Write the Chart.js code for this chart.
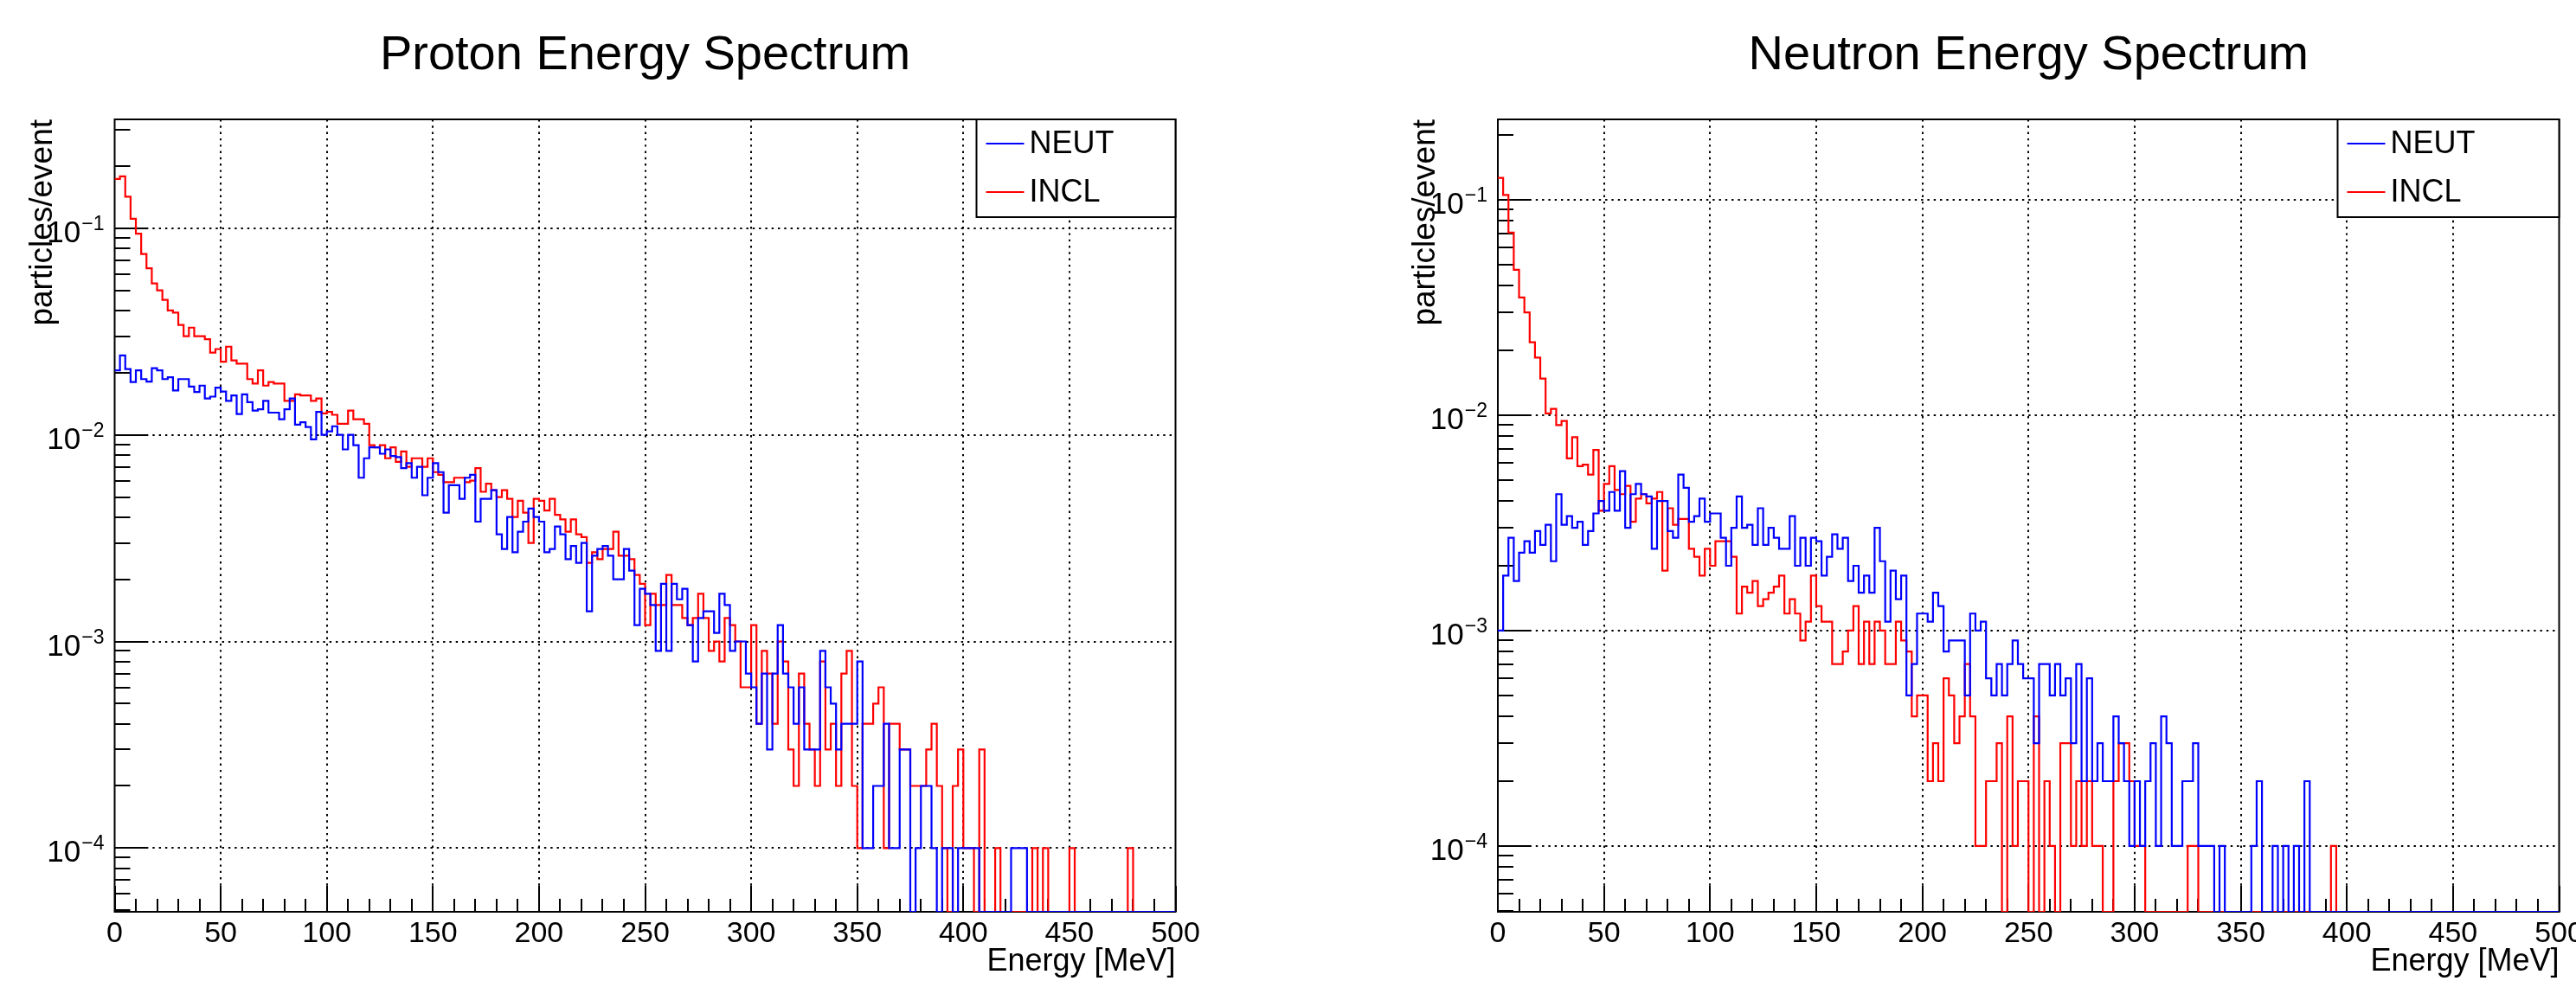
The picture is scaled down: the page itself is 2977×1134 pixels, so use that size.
<!DOCTYPE html>
<html>
<head>
<meta charset="utf-8">
<script src="https://cdn.jsdelivr.net/npm/chart.js@4.4.1/dist/chart.umd.min.js"></script>
<style>
  body { margin: 0; background: #fff; width: 2977px; height: 1134px; overflow: hidden; position: relative; }
  canvas { position: absolute; top: 0; }
</style>
</head>
<body>
<canvas id="protonChart" width="1488" height="1134" style="left:0px"></canvas>
<canvas id="neutronChart" width="1489" height="1134" style="left:1488px"></canvas>
<script>
// histogram binning: 200 bins of 2.5 MeV from 0 to 500 MeV
const BIN_WIDTH = 2.5;
const xTickLabels = [0, 50, 100, 150, 200, 250, 300, 350, 400, 450, 500];
const yDecades = [-1, -2, -3, -4];
const seriesNames = ["NEUT", "INCL"];

// Proton energy spectrum (particles/event)
const protonNeut = [
  0.0205, 0.0242, 0.0208, 0.0180, 0.0205, 0.0186, 0.0181, 0.0210, 0.0205, 0.0186,
  0.0190, 0.0164, 0.0186, 0.0186, 0.0171, 0.0161, 0.0173, 0.0150, 0.0153, 0.0169,
  0.0162, 0.0146, 0.0155, 0.0126, 0.0157, 0.0144, 0.0131, 0.0133, 0.0146, 0.0128,
  0.0128, 0.0119, 0.0133, 0.0150, 0.0112, 0.0115, 0.0109, 0.0095, 0.0129, 0.0100,
  0.0104, 0.0110, 0.0100, 0.0085, 0.0100, 0.0089, 0.0062, 0.0077, 0.0087, 0.0087,
  0.0081, 0.0085, 0.0079, 0.0078, 0.0069, 0.0073, 0.0062, 0.0070, 0.0051, 0.0062,
  0.0073, 0.0066, 0.0042, 0.0057, 0.0057, 0.0049, 0.0062, 0.0064, 0.0038, 0.0049,
  0.0049, 0.0054, 0.0033, 0.0028, 0.0040, 0.0027, 0.0034, 0.0038, 0.0044, 0.0040,
  0.0038, 0.0027, 0.0028, 0.0036, 0.0033, 0.0025, 0.0029, 0.0024, 0.0030, 0.0014,
  0.0026, 0.0028, 0.0029, 0.0026, 0.0020, 0.0020, 0.0028, 0.0022, 0.0012, 0.0018,
  0.0017, 0.0015, 0.0009, 0.0019, 0.0009, 0.0019, 0.0016, 0.0018, 0.0012, 0.0008,
  0.0013, 0.0014, 0.0014, 0.0011, 0.0017, 0.0015, 0.0009, 0.0010, 0.0010, 0.0007,
  0.0006, 0.0004, 0.0007, 0.0003, 0.0007, 0.0012, 0.0007, 0.0006, 0.0004, 0.0006,
  0.0003, 0.0003, 0.0003, 0.0009, 0.0006, 0.0005, 0.0003, 0.0004, 0.0004, 0.0004,
  0.0008, 0.0001, 0.0001, 0.0002, 0.0002, 0.0004, 0.0001, 0.0001, 0.0003, 0.0003,
  0, 0.0001, 0.0002, 0.0002, 0.0001, 0, 0.0001, 0.0001, 0, 0.0001,
  0.0001, 0.0001, 0.0001, 0, 0, 0, 0, 0, 0, 0.0001,
  0.0001, 0.0001, 0, 0, 0, 0, 0, 0, 0, 0,
  0, 0, 0, 0, 0, 0, 0, 0, 0, 0,
  0, 0, 0, 0, 0, 0, 0, 0, 0, 0
];
const protonIncl = [
  0.173, 0.178, 0.142, 0.111, 0.094, 0.075, 0.064, 0.054, 0.050, 0.045,
  0.040, 0.039, 0.034, 0.030, 0.033, 0.030, 0.030, 0.029, 0.025, 0.026,
  0.0226, 0.0267, 0.0229, 0.0221, 0.0221, 0.0186, 0.0177, 0.0205, 0.0173, 0.0180,
  0.0177, 0.0177, 0.0146, 0.0146, 0.0157, 0.0155, 0.0155, 0.0146, 0.0150, 0.0127,
  0.0129, 0.0125, 0.0113, 0.0113, 0.0131, 0.0119, 0.0119, 0.0113, 0.0089, 0.0087,
  0.0089, 0.0077, 0.0087, 0.0074, 0.0083, 0.0070, 0.0077, 0.0077, 0.0070, 0.0077,
  0.0066, 0.0064, 0.0059, 0.0059, 0.0062, 0.0062, 0.0059, 0.0060, 0.0069, 0.0053,
  0.0058, 0.0054, 0.0050, 0.0054, 0.0049, 0.0040, 0.0048, 0.0042, 0.0030, 0.0049,
  0.0048, 0.0043, 0.0049, 0.0041, 0.0039, 0.0034, 0.0039, 0.0033, 0.0032, 0.0024,
  0.0027, 0.0025, 0.0028, 0.0028, 0.0034, 0.0026, 0.0026, 0.0025, 0.0021, 0.0019,
  0.0012, 0.0017, 0.0015, 0.0015, 0.0021, 0.0015, 0.0015, 0.0013, 0.0012, 0.0013,
  0.0017, 0.0013, 0.0009, 0.0010, 0.0008, 0.0013, 0.0012, 0.0010, 0.0006, 0.0006,
  0.0012, 0.0004, 0.0009, 0.0007, 0.0004, 0.0010, 0.0008, 0.0003, 0.0002, 0.0007,
  0.0004, 0.0003, 0.0002, 0.0008, 0.0003, 0.0004, 0.0002, 0.0007, 0.0009, 0.0002,
  0.0001, 0.0004, 0.0004, 0.0005, 0.0006, 0.0001, 0.0004, 0.0004, 0.0003, 0.0003,
  0.0002, 0.0002, 0.0002, 0.0003, 0.0004, 0.0002, 0.0001, 0, 0.0002, 0.0003,
  0.0001, 0.0001, 0, 0.0003, 0, 0, 0.0001, 0, 0, 0,
  0, 0, 0, 0.0001, 0, 0.0001, 0, 0, 0, 0,
  0.0001, 0, 0, 0, 0, 0, 0, 0, 0, 0,
  0, 0.0001, 0, 0, 0, 0, 0, 0, 0, 0
];

// Neutron energy spectrum (particles/event)
const neutronNeut = [
  0.0010, 0.0018, 0.0027, 0.0017, 0.0023, 0.0026, 0.0023, 0.0029, 0.0025, 0.0031,
  0.0021, 0.0043, 0.0031, 0.0034, 0.0030, 0.0032, 0.0025, 0.0029, 0.0035, 0.0040,
  0.0036, 0.0044, 0.0036, 0.0055, 0.0030, 0.0043, 0.0048, 0.0043, 0.0042, 0.0024,
  0.0040, 0.0040, 0.0029, 0.0027, 0.0053, 0.0046, 0.0032, 0.0034, 0.0041, 0.0032,
  0.0035, 0.0035, 0.0027, 0.0020, 0.0030, 0.0042, 0.0030, 0.0031, 0.0025, 0.0037,
  0.0025, 0.0030, 0.0027, 0.0024, 0.0024, 0.0034, 0.0020, 0.0027, 0.0020, 0.0027,
  0.0026, 0.0018, 0.0022, 0.0028, 0.0024, 0.0027, 0.0017, 0.0020, 0.0015, 0.0018,
  0.0015, 0.0030, 0.0021, 0.0011, 0.0019, 0.0014, 0.0018, 0.0005, 0.0007, 0.0012,
  0.0012, 0.0011, 0.0015, 0.0013, 0.0008, 0.0009, 0.0009, 0.0009, 0.0005, 0.0012,
  0.0010, 0.0011, 0.0006, 0.0005, 0.0007, 0.0005, 0.0007, 0.0009, 0.0007, 0.0006,
  0.0006, 0.0003, 0.0007, 0.0007, 0.0005, 0.0007, 0.0005, 0.0006, 0.0003, 0.0007,
  0.0002, 0.0006, 0.0002, 0.0003, 0.0002, 0.0002, 0.0004, 0.0003, 0.0002, 0.0001,
  0.0002, 0.0001, 0.0002, 0.0003, 0.0001, 0.0004, 0.0003, 0.0001, 0.0001, 0.0002,
  0.0002, 0.0003, 0.0001, 0.0001, 0.0001, 0, 0.0001, 0, 0, 0,
  0, 0, 0.0001, 0.0002, 0, 0, 0.0001, 0, 0.0001, 0,
  0.0001, 0, 0.0002, 0, 0, 0, 0, 0, 0, 0,
  0, 0, 0, 0, 0, 0, 0, 0, 0, 0,
  0, 0, 0, 0, 0, 0, 0, 0, 0, 0,
  0, 0, 0, 0, 0, 0, 0, 0, 0, 0,
  0, 0, 0, 0, 0, 0, 0, 0, 0, 0
];
const neutronIncl = [
  0.1265, 0.1054, 0.0704, 0.0473, 0.0352, 0.0300, 0.0218, 0.0185, 0.0148, 0.0102,
  0.0107, 0.0090, 0.0094, 0.0063, 0.0079, 0.0058, 0.0059, 0.0053, 0.0069, 0.0036,
  0.0048, 0.0058, 0.0045, 0.0043, 0.0047, 0.0032, 0.0041, 0.0043, 0.0039, 0.0041,
  0.0044, 0.0019, 0.0037, 0.0031, 0.0033, 0.0033, 0.0024, 0.0022, 0.0018, 0.0024,
  0.0020, 0.0026, 0.0026, 0.0026, 0.0022, 0.0012, 0.0016, 0.0015, 0.0017, 0.0013,
  0.0014, 0.0015, 0.0016, 0.0018, 0.0012, 0.0014, 0.0012, 0.0009, 0.0011, 0.0018,
  0.0013, 0.0011, 0.0011, 0.0007, 0.0007, 0.0008, 0.0010, 0.0013, 0.0007, 0.0011,
  0.0007, 0.0011, 0.0010, 0.0007, 0.0007, 0.0011, 0.0009, 0.0008, 0.0004, 0.0005,
  0.0005, 0.0002, 0.0003, 0.0002, 0.0006, 0.0005, 0.0003, 0.0004, 0.0007, 0.0004,
  0.0001, 0.0001, 0.0002, 0.0002, 0.0003, 0, 0.0004, 0.0001, 0.0002, 0.0002,
  0, 0.0004, 0, 0.0002, 0.0001, 0, 0.0003, 0.0003, 0.0001, 0.0002,
  0.0001, 0.0002, 0.0001, 0.0001, 0, 0, 0.0002, 0.0003, 0.0003, 0.0002,
  0.0001, 0.0001, 0, 0, 0, 0, 0, 0, 0, 0,
  0.0001, 0.0001, 0, 0, 0, 0, 0, 0, 0, 0,
  0, 0, 0, 0, 0, 0, 0, 0, 0, 0,
  0, 0, 0, 0, 0, 0, 0, 0.0001, 0, 0,
  0, 0, 0, 0, 0, 0, 0, 0, 0, 0,
  0, 0, 0, 0, 0, 0, 0, 0, 0, 0,
  0, 0, 0, 0, 0, 0, 0, 0, 0, 0,
  0, 0, 0, 0, 0, 0, 0, 0, 0, 0
];

const FONT = '"Liberation Sans", Arial, Helvetica, sans-serif';
const BLUE = "#0000ff";
const RED = "#ff0000";

// empty bins sit on the lower edge of the frame, like ROOT does
function histPoints(values, floor) {
  const pts = values.map((v, i) => ({ x: i * BIN_WIDTH, y: v > 0 ? v : floor }));
  pts.push({ x: values.length * BIN_WIDTH, y: pts[pts.length - 1].y });
  return pts;
}

function rootStyle(title, legendWidth) {
  return {
    id: "rootStyle",
    beforeDatasetsDraw(chart) {
      const { ctx, chartArea: a, scales: { x, y } } = chart;
      ctx.save();
      // dotted grid
      ctx.strokeStyle = "#000";
      ctx.lineWidth = 2;
      ctx.setLineDash([2.4, 4.9]);
      ctx.beginPath();
      xTickLabels.forEach(v => {
        if (v <= x.min || v >= x.max) return;
        const px = Math.round(x.getPixelForValue(v));
        ctx.moveTo(px, a.top);
        ctx.lineTo(px, a.bottom);
      });
      yDecades.forEach(e => {
        const py = Math.round(y.getPixelForValue(Math.pow(10, e)));
        ctx.moveTo(a.left, py);
        ctx.lineTo(a.right, py);
      });
      ctx.stroke();
      ctx.setLineDash([]);

      // frame
      ctx.lineWidth = 2;
      ctx.strokeRect(a.left, a.top, a.right - a.left, a.bottom - a.top);

      // ticks, drawn inside the frame
      ctx.beginPath();
      for (let v = x.min; v <= x.max; v += 10) {
        const px = Math.round(x.getPixelForValue(v));
        const len = v % 50 === 0 ? 30 : 15;
        ctx.moveTo(px, a.bottom);
        ctx.lineTo(px, a.bottom - len);
      }
      for (let e = -5; e <= 0; e++) {
        for (let m = 1; m <= 9; m++) {
          const v = m * Math.pow(10, e);
          if (v < y.min || v > y.max) continue;
          const py = Math.round(y.getPixelForValue(v));
          const len = m === 1 ? 37 : 18;
          ctx.moveTo(a.left, py);
          ctx.lineTo(a.left + len, py);
        }
      }
      ctx.stroke();

      // tick labels
      ctx.fillStyle = "#000";
      ctx.font = "34px " + FONT;
      ctx.textAlign = "center";
      ctx.textBaseline = "alphabetic";
      xTickLabels.forEach(v => {
        ctx.fillText(String(v), x.getPixelForValue(v), a.bottom + 35);
      });
      yDecades.forEach(e => {
        const py = y.getPixelForValue(Math.pow(10, e));
        const sup = "\u2212" + String(-e);
        ctx.font = "23px " + FONT;
        ctx.textAlign = "right";
        const supW = ctx.measureText(sup).width;
        ctx.fillText(sup, a.left - 12, py + 2);
        ctx.font = "35px " + FONT;
        ctx.fillText("10", a.left - 13 - supW, py + 16);
      });

      // axis titles
      ctx.font = "36px " + FONT;
      ctx.textAlign = "right";
      ctx.fillText("Energy [MeV]", a.right, a.bottom + 68);
      ctx.save();
      ctx.translate(a.left - 73, a.top);
      ctx.rotate(-Math.PI / 2);
      ctx.font = "37px " + FONT;
      ctx.textAlign = "right";
      ctx.fillText("particles/event", 0, 0);
      ctx.restore();

      // title
      ctx.font = "56px " + FONT;
      ctx.textAlign = "center";
      ctx.fillText(title, (a.left + a.right) / 2, 80);
      ctx.restore();
    },
    afterDatasetsDraw(chart) {
      const { ctx, chartArea: a } = chart;
      const w = legendWidth, h = 113;
      const bx = a.right - w, by = a.top;
      ctx.save();
      ctx.fillStyle = "#fff";
      ctx.fillRect(bx, by, w, h);
      ctx.strokeStyle = "#000";
      ctx.lineWidth = 2;
      ctx.strokeRect(bx, by, w, h);
      const colors = [BLUE, RED];
      seriesNames.forEach((name, i) => {
        const ry = by + 28 + i * 56;
        ctx.strokeStyle = colors[i];
        ctx.lineWidth = 2.2;
        ctx.beginPath();
        ctx.moveTo(bx + 11, ry);
        ctx.lineTo(bx + 55, ry);
        ctx.stroke();
        ctx.fillStyle = "#000";
        ctx.font = "36px " + FONT;
        ctx.textAlign = "left";
        ctx.textBaseline = "middle";
        ctx.fillText(name, bx + 61, ry + 1);
      });
      ctx.restore();
    }
  };
}

function makeSpectrumChart(id, neut, incl, yMin, yMax, padding, title, legendWidth) {
  return new Chart(id, {
    type: "line",
    data: {
      datasets: [
        { label: seriesNames[0], data: histPoints(neut, yMin), borderColor: BLUE, stepped: "before" },
        { label: seriesNames[1], data: histPoints(incl, yMin), borderColor: RED, stepped: "before" },
      ],
    },
    options: {
      responsive: false,
      animation: false,
      devicePixelRatio: 1,
      layout: { padding: padding },
      elements: {
        point: { radius: 0 },
        line: { borderWidth: 2.2, tension: 0, fill: false },
      },
      scales: {
        x: { type: "linear", min: 0, max: 500, display: false },
        y: { type: "logarithmic", min: yMin, max: yMax, display: false },
      },
      plugins: {
        legend: { display: false },
        tooltip: { enabled: false },
        title: { display: false },
      },
    },
    plugins: [rootStyle(title, legendWidth)],
  });
}

makeSpectrumChart("protonChart", protonNeut, protonIncl, 4.92e-5, 0.336,
  { left: 132.5, right: 129.5, top: 138, bottom: 80 }, "Proton Energy Spectrum", 230);
makeSpectrumChart("neutronChart", neutronNeut, neutronIncl, 4.95e-5, 0.2363,
  { left: 243, right: 19.5, top: 138, bottom: 80 }, "Neutron Energy Spectrum", 256);
</script>
</body>
</html>
